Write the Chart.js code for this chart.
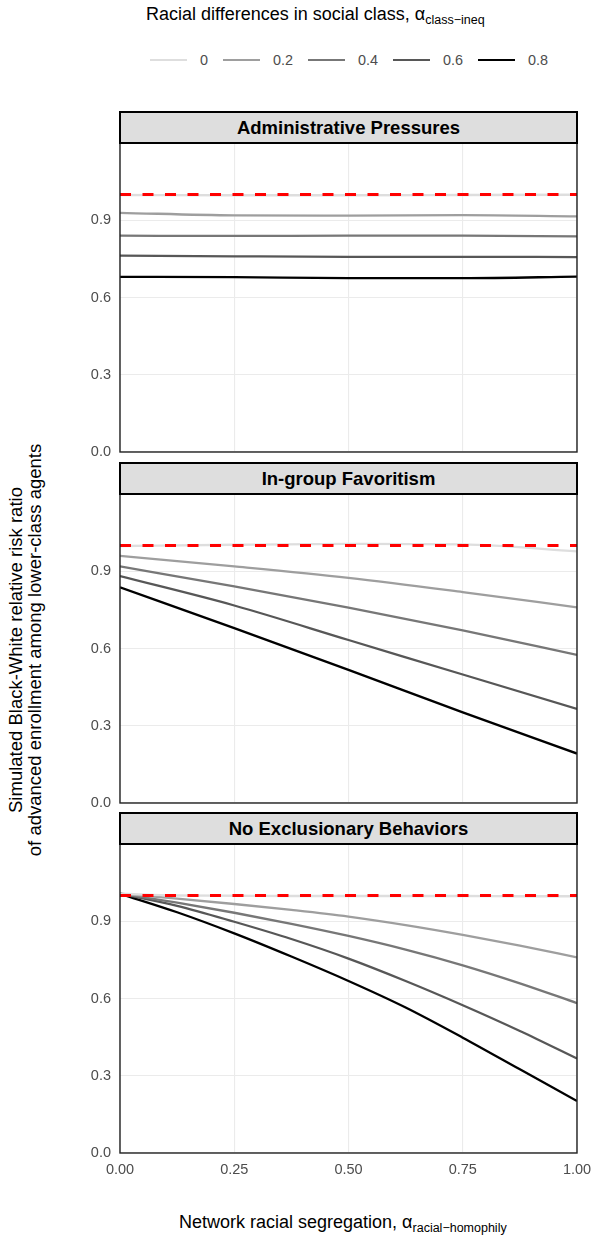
<!DOCTYPE html>
<html>
<head>
<meta charset="utf-8">
<script src="https://cdn.jsdelivr.net/npm/chart.js@4.4.1/dist/chart.umd.min.js"></script>
<style>
  body { margin: 0; background: #fff; }
  #fig { position: relative; width: 592px; height: 1240px; background: #fff;
         font-family: "Liberation Sans", Arial, sans-serif; color: #000; overflow: hidden; }
  #fig canvas { position: absolute; left: 0; }
  .title { position: absolute; font-size: 18px; white-space: nowrap; }
  .title sub { font-size: 12.5px; vertical-align: -4px; line-height: 0; }
  #legend { position: absolute; left: 150px; top: 51px; height: 18px; display: flex; align-items: center;
            font-size: 14.4px; color: #4d4d4d; }
  #legend .sw { width: 37px; height: 2.8px; margin-right: 13px; }
  #legend .lab { margin-right: 15px; }
  .strip { position: absolute; left: 119px; width: 459px; height: 33px; box-sizing: border-box;
           border: 2px solid #000; background: #dedede; font-weight: bold; font-size: 18.5px;
           text-align: center; line-height: 29px; z-index: 2; }
  #ytitle { position: absolute; left: 25px; top: 650px; width: 0; height: 0; }
  #ytitle div { position: absolute; transform: translate(-50%, -50%) rotate(-90deg);
                font-size: 18.5px; line-height: 19px; text-align: center; white-space: nowrap; }
</style>
</head>
<body>
<div id="fig">
  <div class="title" id="legTitle" style="left:146px; top:4px;">Racial differences in social class, α<sub>class−ineq</sub></div>
  <div id="legend"></div>
  <div id="ytitle"><div>Simulated Black-White relative risk ratio<br>of advanced enrollment among lower-class agents</div></div>
  <div class="title" id="xTitle" style="left:179px; top:1212px;">Network racial segregation, α<sub>racial−homophily</sub></div>
</div>
<script>
// x: network racial segregation (alpha racial-homophily)
const xSeg = [0, 0.25, 0.5, 0.75, 1];
const xSegFine = [0, 0.125, 0.25, 0.375, 0.5, 0.625, 0.75, 0.875, 1];
// legend levels: racial differences in social class (alpha class-ineq)
const classIneq = ['0', '0.2', '0.4', '0.6', '0.8'];
const lineColors = ['#dedede', '#9e9e9e', '#777777', '#575757', '#000000'];

const xTicks = [0, 0.25, 0.5, 0.75, 1];
const yTicks = [0, 0.3, 0.6, 0.9];
const refLine = [1, 1];

const panelTitles = ['Administrative Pressures', 'In-group Favoritism', 'No Exclusionary Behaviors'];

// one row per class-ineq level
const adminPressures = [          // at xSeg
  [0.998, 0.997, 0.997, 0.998, 0.999],
  [0.929, 0.919, 0.918, 0.920, 0.915],
  [0.840, 0.839, 0.840, 0.840, 0.837],
  [0.763, 0.760, 0.758, 0.758, 0.757],
  [0.680, 0.679, 0.675, 0.675, 0.681]
];
const ingroupFavoritism = [       // at xSeg
  [0.998, 1.003, 1.006, 1.004, 0.977],
  [0.960, 0.919, 0.874, 0.819, 0.760],
  [0.919, 0.841, 0.759, 0.670, 0.575],
  [0.881, 0.767, 0.633, 0.499, 0.365],
  [0.838, 0.679, 0.517, 0.352, 0.192]
];
const noExclusion = [             // at xSegFine
  [1.007, 1.000, 0.999, 0.998, 0.998, 0.998, 0.998, 0.997, 0.997],
  [1.007, 0.988, 0.967, 0.944, 0.918, 0.885, 0.847, 0.805, 0.760],
  [1.007, 0.972, 0.933, 0.890, 0.843, 0.790, 0.729, 0.659, 0.582],
  [1.007, 0.960, 0.898, 0.831, 0.755, 0.668, 0.574, 0.474, 0.367],
  [1.007, 0.935, 0.853, 0.763, 0.668, 0.565, 0.448, 0.325, 0.202]
];
const panelData = [adminPressures, ingroupFavoritism, noExclusion];
const panelX = [xSeg, xSeg, xSegFine];

Chart.defaults.font.family = '"Liberation Sans", Arial, sans-serif';

// legend
const legend = document.getElementById('legend');
classIneq.forEach((lab, i) => {
  const sw = document.createElement('span');
  sw.className = 'sw';
  sw.style.background = lineColors[i];
  const t = document.createElement('span');
  t.className = 'lab';
  t.textContent = lab;
  legend.appendChild(sw);
  legend.appendChild(t);
});

const framePlugin = {
  id: 'frame',
  afterDraw(chart) {
    const a = chart.chartArea, ctx = chart.ctx;
    ctx.save();
    ctx.strokeStyle = '#222';
    ctx.lineWidth = 1.4;
    ctx.strokeRect(a.left, a.top, a.right - a.left, a.bottom - a.top);
    ctx.restore();
  }
};

// keep the plot box where we put it, labels may overhang
const noPad = s => { s.paddingTop = s.paddingBottom = s.paddingLeft = s.paddingRight = 0; };

const fig = document.getElementById('fig');
const stripTops = [111, 462, 812];

panelData.forEach((rows, p) => {
  const last = p === panelData.length - 1;
  const xs = panelX[p];

  const strip = document.createElement('div');
  strip.className = 'strip';
  strip.style.top = stripTops[p] + 'px';
  strip.textContent = panelTitles[p];
  fig.appendChild(strip);

  const canvas = document.createElement('canvas');
  const h = last ? 341 : 321;
  canvas.width = 592;
  canvas.height = h;
  canvas.style.top = (stripTops[p] + 30) + 'px';
  fig.appendChild(canvas);

  const datasets = [{
    data: [xs[0], xs[xs.length - 1]].map((x, i) => ({ x: x, y: refLine[i] })),
    borderColor: '#ff0000',
    borderWidth: 2.8,
    borderDash: [11, 11.5],
    order: 0
  }];
  rows.forEach((vals, i) => {
    datasets.push({
      label: classIneq[i],
      data: xs.map((x, j) => ({ x: x, y: vals[j] })),
      borderColor: lineColors[i],
      borderWidth: 2.3,
      cubicInterpolationMode: 'monotone',
      order: 1
    });
  });

  new Chart(canvas, {
    type: 'line',
    data: { datasets: datasets },
    options: {
      responsive: false,
      animation: false,
      layout: { autoPadding: false, padding: { top: 2, right: 15, left: 0, bottom: 0 } },
      elements: { point: { radius: 0 } },
      plugins: { legend: { display: false }, tooltip: { enabled: false } },
      scales: {
        x: {
          type: 'linear', min: 0, max: 1,
          afterBuildTicks: s => { s.ticks = xTicks.map(v => ({ value: v })); },
          afterFit: s => { s.height = last ? 30 : 10; noPad(s); },
          ticks: { display: last, padding: 8, color: '#4d4d4d', font: { size: 14.5 },
                   callback: v => v.toFixed(2), maxRotation: 0 },
          grid: { color: '#ebebeb', lineWidth: 1.1, drawTicks: false },
          border: { display: false }
        },
        y: {
          type: 'linear', min: 0, max: 1.2,
          afterBuildTicks: s => { s.ticks = yTicks.map(v => ({ value: v })); },
          afterFit: s => { s.width = 120; noPad(s); },
          ticks: { padding: 9, color: '#4d4d4d', font: { size: 14.5 }, callback: v => v.toFixed(1) },
          grid: { color: '#ebebeb', lineWidth: 1.1, drawTicks: false },
          border: { display: false }
        }
      }
    },
    plugins: [framePlugin]
  });
});
</script>
</body>
</html>
